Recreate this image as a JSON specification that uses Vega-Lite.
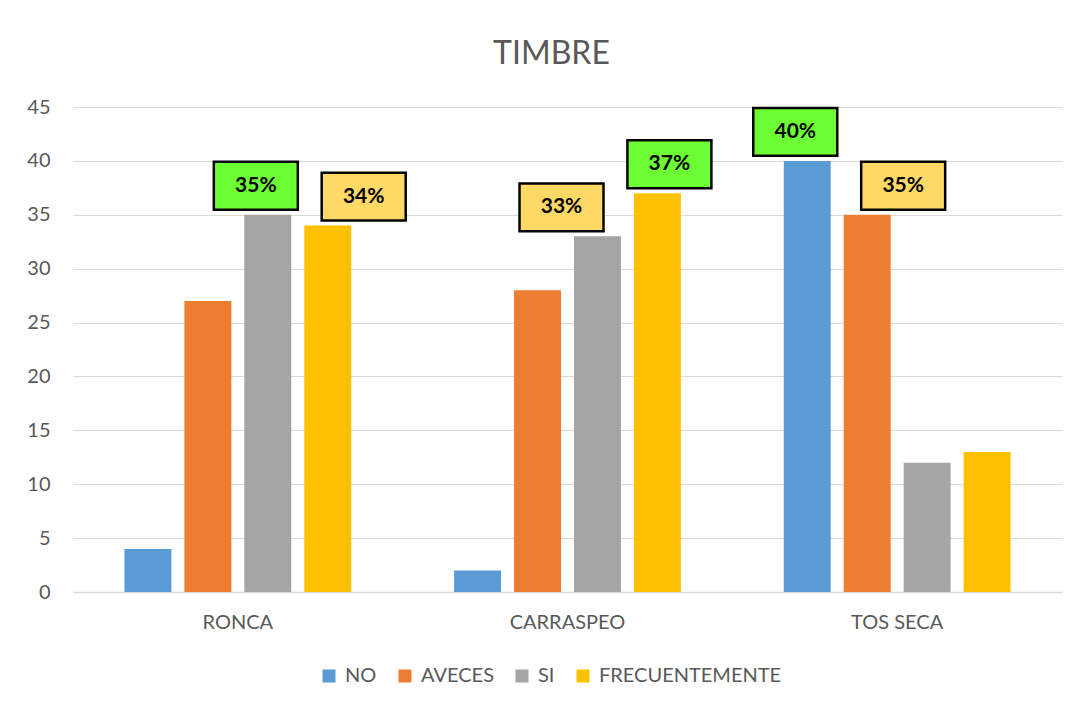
{
  "$schema": "https://vega.github.io/schema/vega-lite/v6.json",
  "width": 989,
  "height": 485,
  "autosize": {"type": "none"},
  "padding": {"left": 73, "top": 107, "right": 22, "bottom": 119},
  "background": "white",
  "config": {"view": {"stroke": null}, "font": "Lato"},
  "title": {"text": "TIMBRE", "fontSize": 32, "font": "Lato", "fontWeight": "normal", "color": "#595959", "offset": 26, "dx": -16},
  "data": {
    "values": [
      {"cat": "RONCA", "serie": "NO", "val": 4},
      {"cat": "RONCA", "serie": "AVECES", "val": 27},
      {"cat": "RONCA", "serie": "SI", "val": 35},
      {"cat": "RONCA", "serie": "FRECUENTEMENTE", "val": 34},
      {"cat": "CARRASPEO", "serie": "NO", "val": 2},
      {"cat": "CARRASPEO", "serie": "AVECES", "val": 28},
      {"cat": "CARRASPEO", "serie": "SI", "val": 33},
      {"cat": "CARRASPEO", "serie": "FRECUENTEMENTE", "val": 37},
      {"cat": "TOS SECA", "serie": "NO", "val": 40},
      {"cat": "TOS SECA", "serie": "AVECES", "val": 35},
      {"cat": "TOS SECA", "serie": "SI", "val": 12},
      {"cat": "TOS SECA", "serie": "FRECUENTEMENTE", "val": 13}
    ]
  },
  "transform": [
    {"calculate": "indexof(['NO','AVECES','SI','FRECUENTEMENTE'], datum.serie)", "as": "idx"},
    {
      "window": [
        {"op": "row_number", "as": "rk"},
        {"op": "first_value", "field": "idx", "as": "i1"},
        {"op": "nth_value", "field": "idx", "param": 2, "as": "i2"}
      ],
      "groupby": ["cat"],
      "sort": [{"field": "val", "order": "descending"}],
      "frame": [null, null]
    },
    {"calculate": "datum.i2 > datum.i1 ? 1 : -1", "as": "dir"},
    {"calculate": "datum.idx + (datum.rk == 1 ? -0.2 : 0.6) * datum.dir", "as": "lx"},
    {"calculate": "datum.val + '%'", "as": "pct"}
  ],
  "encoding": {
    "x": {
      "field": "cat", "type": "nominal", "sort": ["RONCA", "CARRASPEO", "TOS SECA"],
      "scale": {"paddingInner": 0, "paddingOuter": 0},
      "axis": {"title": null, "labelAngle": 0, "labelFontSize": 20, "labelColor": "#595959", "labelPadding": 20, "ticks": false, "domainColor": "#D9D9D9", "domainWidth": 1.5, "labelFont": "Lato"}
    },
    "y": {
      "field": "val", "type": "quantitative",
      "scale": {"domain": [0, 45], "nice": false},
      "axis": {"title": null, "values": [0, 5, 10, 15, 20, 25, 30, 35, 40, 45], "labelFontSize": 20, "labelColor": "#595959", "labelPadding": 23, "ticks": false, "domain": false, "gridColor": "#D9D9D9", "gridWidth": 1.2, "labelFont": "Lato"}
    }
  },
  "layer": [
    {
      "mark": {"type": "bar"},
      "encoding": {
        "xOffset": {
          "field": "serie", "type": "nominal", "sort": ["NO", "AVECES", "SI", "FRECUENTEMENTE"],
          "scale": {"paddingInner": 0.217, "paddingOuter": 0.858}
        },
        "color": {
          "field": "serie", "type": "nominal",
          "sort": ["NO", "AVECES", "SI", "FRECUENTEMENTE"],
          "scale": {"domain": ["NO", "AVECES", "SI", "FRECUENTEMENTE"], "range": ["#5B9BD5", "#ED7D31", "#A5A5A5", "#FFC000"]},
          "legend": {"title": null, "orient": "none", "legendX": 246, "legendY": 559, "direction": "horizontal", "symbolType": "square", "symbolSize": 169, "symbolStrokeWidth": 0, "labelFontSize": 20, "labelColor": "#595959", "labelFont": "Lato", "labelOffset": 6, "labelLimit": 0, "columnPadding": 18}
        }
      }
    },
    {
      "transform": [{"filter": "datum.rk <= 2"}],
      "encoding": {
        "xOffset": {"field": "lx", "type": "quantitative", "scale": {"domain": [-1.25, 4.25]}}
      },
      "layer": [
        {
          "mark": {"type": "point", "shape": "M-1,-1.26L1,-1.26L1,-0.12L-1,-0.12Z", "size": 7056, "filled": true, "stroke": "black", "strokeWidth": 2.5, "opacity": 1},
          "encoding": {
            "fill": {"field": "rk", "type": "ordinal", "scale": {"domain": [1, 2], "range": ["#6CFF33", "#FFD966"]}, "legend": null}
          }
        },
        {
          "mark": {"type": "text", "dy": -29, "fontSize": 21, "fontWeight": "bold", "font": "Lato", "color": "black", "baseline": "middle"},
          "encoding": {"text": {"field": "pct", "type": "nominal"}}
        }
      ]
    }
  ],
  "resolve": {"scale": {"xOffset": "independent"}}
}
